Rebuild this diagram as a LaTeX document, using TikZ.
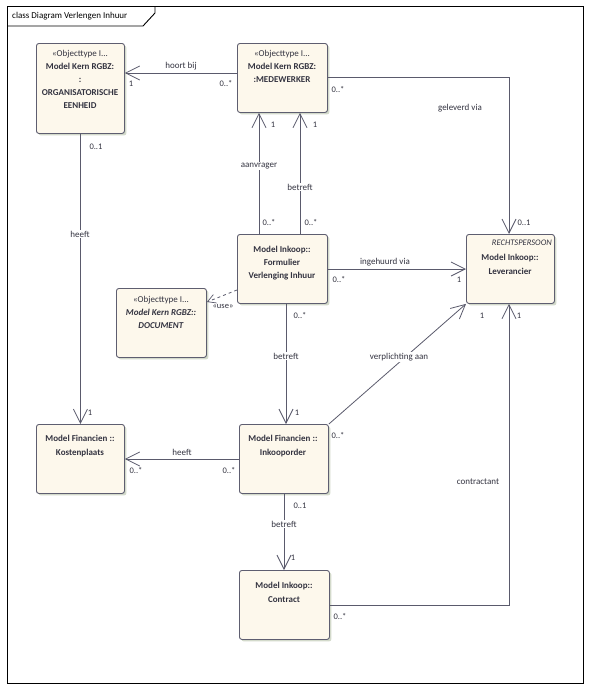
\documentclass[tikz,border=0pt]{standalone}
\usepackage{fontspec}
\setmainfont{Carlito}
\usetikzlibrary{arrows.meta,shadows}
\definecolor{boxfill}{HTML}{FDF8EC}
\definecolor{boxline}{HTML}{5E5E70}
\definecolor{conline}{HTML}{5A5A6C}
\definecolor{txt}{HTML}{333340}
\definecolor{shadowc}{HTML}{D3DACB}
\tikzset{
  umlbox/.style={draw=boxline, line width=0.9pt, fill=boxfill, rounded corners=2.5pt,
    anchor=north west, inner sep=0pt,
    general shadow={fill=shadowc, shadow xshift=2pt, shadow yshift=-2pt}},
  boxtext/.style={anchor=north, align=center, inner sep=0pt, text=txt,
    font=\fontsize{9}{13}\selectfont},
  assoc/.style={draw=conline, line width=0.8pt},
  openarrow/.style={-{Straight Barb[length=14pt,width=14pt,line width=0.8pt]}},
  lbl/.style={fill=white, inner sep=1pt, text=txt, font=\fontsize{9}{11}\selectfont},
  mult/.style={inner sep=0pt, text=txt, font=\fontsize{8.5}{10}\selectfont},
}
\begin{document}
\begin{tikzpicture}[x=1pt,y=-1pt]
\useasboundingbox (0,0) rectangle (590,689);
\fill[white] (0,0) rectangle (590,689);
% frame
\draw[line width=0.9pt, black] (7,6) rectangle (583,683);
\draw[line width=0.9pt, black] (7,26) -- (143,26) -- (155,13) -- (155,6);
\node[anchor=west, inner sep=0pt, font=\fontsize{9}{11}\selectfont] (title) at (12,16.5) {class Diagram Verlengen Inhuur};

% boxes
\node[umlbox, minimum width=88pt, minimum height=90pt] (org) at (36,43) {};
\node[umlbox, minimum width=90pt, minimum height=69pt] (med) at (237,43) {};
\node[umlbox, minimum width=88pt, minimum height=69pt] (lev) at (466,234) {};
\node[umlbox, minimum width=90pt, minimum height=69pt] (form) at (237,234) {};
\node[umlbox, minimum width=90pt, minimum height=69pt] (doc) at (116,288) {};
\node[umlbox, minimum width=88pt, minimum height=69pt] (kost) at (36,424) {};
\node[umlbox, minimum width=89pt, minimum height=69pt] (ink) at (239,424) {};
\node[umlbox, minimum width=90pt, minimum height=69pt] (con) at (239,570) {};

% box texts
\node[boxtext] (orgt) at (80,50.5) {«Objecttype I...\\\textbf{Model Kern RGBZ:}\\\textbf{:}\\\textbf{ORGANISATORISCHE}\\\textbf{EENHEID}};
\node[boxtext] (medt) at (282,50.5) {«Objecttype I...\\\textbf{Model Kern RGBZ:}\\\textbf{:MEDEWERKER}};
\node[anchor=north east, inner sep=0pt, text=txt, font=\fontsize{8.5}{10}\selectfont\itshape] (levs) at (552,239.5) {RECHTSPERSOON};
\node[boxtext, font=\fontsize{9}{14}\selectfont] (levt) at (510,253.5) {\textbf{Model Inkoop::}\\\textbf{Leverancier}};
\node[boxtext] (formt) at (282,245.5) {\textbf{Model Inkoop::}\\\textbf{Formulier}\\\textbf{Verlenging Inhuur}};
\node[boxtext] (doct) at (161,296.5) {«Objecttype I...\\\textbf{\itshape Model Kern RGBZ::}\\\textbf{\itshape DOCUMENT}};
\node[boxtext, font=\fontsize{9}{14}\selectfont] (kostt) at (80,434.5) {\textbf{Model Financien ::}\\\textbf{Kostenplaats}};
\node[boxtext, font=\fontsize{9}{14}\selectfont] (inkt) at (283,434.5) {\textbf{Model Financien ::}\\\textbf{Inkooporder}};
\node[boxtext, font=\fontsize{9}{14}\selectfont] (cont) at (284,581.5) {\textbf{Model Inkoop::}\\\textbf{Contract}};

% connectors
\draw[assoc, openarrow] (med.west |- 0,73) -- (org.east |- 0,73);
\draw[assoc, openarrow] (med.east |- 0,77) -| (lev.north -| 509,0);
\draw[assoc, openarrow] (form.north -| 259,0) -- (med.south -| 259,0);
\draw[assoc, openarrow] (form.north -| 300,0) -- (med.south -| 300,0);
\draw[assoc, openarrow] (form.east |- 0,269) -- (lev.west |- 0,269);
\draw[assoc, dashed, -{Straight Barb[length=8pt,width=9pt,line width=0.7pt]}] (form.west |- 0,290) -- (doc.east |- 0,302);
\draw[assoc, openarrow] (form.south -| 286,0) -- (ink.north -| 286,0);
\draw[assoc, openarrow] (org.south) -- (kost.north);
\draw[assoc, openarrow] (ink.west |- 0,459) -- (kost.east |- 0,459);
\draw[assoc, openarrow] (ink.north east) -- (lev.south west);
\draw[assoc, openarrow] (con.east |- 0,605) -| (lev.south -| 509,0);
\draw[assoc, openarrow] (ink.south -| 284,0) -- (con.north -| 284,0);

% connector labels
\node[lbl] (l1) at (181,66) {hoort bij};
\node[lbl] (l2) at (460,108) {geleverd via};
\node[lbl] (l3) at (259,166) {aanvrager};
\node[lbl] (l4) at (300,187) {betreft};
\node[lbl] (l5) at (385,262) {ingehuurd via};
\node[inner sep=0pt, text=txt, font=\fontsize{8.5}{10}\selectfont] (l6) at (223,306) {«use»};
\node[lbl] (l7) at (286,356) {betreft};
\node[lbl] (l8) at (80,234) {heeft};
\node[lbl] (l9) at (182,452) {heeft};
\node[lbl] (l10) at (399,357) {verplichting aan};
\node[lbl] (l11) at (478,482) {contractant};
\node[lbl] (l12) at (284,524) {betreft};

% multiplicities
\node[mult] (m1) at (131,84) {1};
\node[mult] (m2) at (226,84) {0..*};
\node[mult] (m3) at (338,90) {0..*};
\node[mult] (m4) at (524,223) {0..1};
\node[mult] (m5) at (273,125) {1};
\node[mult] (m6) at (269,223) {0..*};
\node[mult] (m7) at (315,125) {1};
\node[mult] (m8) at (311,223) {0..*};
\node[mult] (m9) at (339,280) {0..*};
\node[mult] (m10) at (459,280) {1};
\node[mult] (m11) at (300,316) {0..*};
\node[mult] (m12) at (297,413) {1};
\node[mult] (m13) at (96,147) {0..1};
\node[mult] (m14) at (90,413) {1};
\node[mult] (m15) at (136,471) {0..*};
\node[mult] (m16) at (229,471) {0..*};
\node[mult] (m17) at (338,436) {0..*};
\node[mult] (m18) at (482,316) {1};
\node[mult] (m19) at (519,316) {1};
\node[mult] (m20) at (340,617) {0..*};
\node[mult] (m21) at (300,506) {0..1};
\node[mult] (m22) at (293,558) {1};
\end{tikzpicture}
\end{document}
